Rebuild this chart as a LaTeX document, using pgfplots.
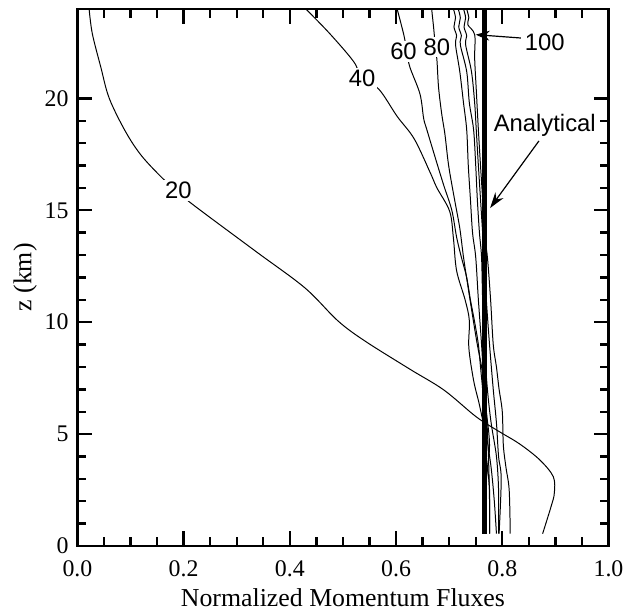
\documentclass[border=0pt]{standalone}
\usepackage{fontspec}
\setmainfont{Liberation Serif}
\newfontfamily\helv{Liberation Sans}
\usepackage{pgfplots}
\pgfplotsset{compat=1.18}
\usetikzlibrary{arrows.meta}

\pgfplotsset{run/.style={black, no markers, line width=0.5pt, smooth, tension=0.55}}

\begin{document}
\begin{tikzpicture}
\begin{axis}[
  scale only axis, width=267.5pt, height=270.5pt,
  xmin=0, xmax=1, ymin=0, ymax=24,
  xtick={0,0.2,0.4,0.6,0.8,1.0},
  xticklabels={0.0,0.2,0.4,0.6,0.8,1.0},
  ytick={0,5,10,15,20},
  minor x tick num=3, minor y tick num=4,
  tick align=inside, major tick length=7.5pt, minor tick length=4.5pt,
  tick style={line width=1.2pt, black},
  axis line style={line width=1.2pt},
  /pgf/number format/assume math mode=true,
  tick label style={font=\fontsize{12}{12}\selectfont},
  xticklabel style={yshift=-4pt},
  yticklabel style={xshift=-1pt},
  xlabel={Normalized Momentum Fluxes}, ylabel={z (km)},
  label style={font=\fontsize{13}{13}\selectfont},
  xlabel style={yshift=1pt},
  ylabel style={yshift=-3pt},
]
% run 20
\addplot[run] coordinates {(0.022,24.0) (0.028,22.9) (0.044,21.4) (0.060,20.0) (0.091,18.5) (0.122,17.4) (0.166,16.3) (0.19,15.85) (0.215,15.3) (0.335,13.18) (0.428,11.54) (0.490,10.07) (0.540,9.18) (0.626,7.90) (0.690,6.97) (0.751,5.77) (0.795,5.1) (0.832,4.57) (0.870,3.86) (0.896,3.1) (0.898,2.36) (0.892,1.77) (0.876,0.55)};
% run 40
\addplot[run] coordinates {(0.430,24.0) (0.475,22.9) (0.520,21.65) (0.536,20.9) (0.568,20.4) (0.602,19.2) (0.634,18.2) (0.664,16.7) (0.677,16.0) (0.701,14.95) (0.708,13.75) (0.714,12.3) (0.730,11.0) (0.738,10.07) (0.737,8.87) (0.746,7.4) (0.757,6.3) (0.766,5.2) (0.770,4.0) (0.776,2.5) (0.776,0.55)};
% run 60
\addplot[run] coordinates {(0.602,24.0) (0.615,22.8) (0.620,22.1) (0.626,21.4) (0.645,20.2) (0.652,19.1) (0.658,18.6) (0.677,17.1) (0.690,16.1) (0.705,15.0) (0.714,13.8) (0.723,12.9) (0.733,12.0) (0.740,11.0) (0.748,10.0) (0.755,9.0) (0.759,8.0) (0.763,7.0) (0.766,6.0) (0.770,5.0) (0.779,3.5) (0.785,2.0) (0.789,0.55)};
% run 80
\addplot[run] coordinates {(0.667,24.0) (0.671,23.1) (0.674,22.3) (0.677,21.7) (0.680,20.5) (0.686,19.3) (0.692,18.4) (0.699,17.0) (0.710,15.5) (0.720,14.2) (0.727,12.9) (0.736,11.5) (0.746,10.0) (0.753,9.0) (0.761,8.0) (0.766,7.0) (0.770,6.0) (0.776,4.5) (0.770,3.0) (0.764,2.0) (0.770,0.55)};
% run 100 and beyond
\addplot[run] coordinates {(0.708,24.0) (0.712,23.6) (0.709,23.2) (0.714,22.8) (0.712,22.4) (0.720,21.2) (0.727,19.8) (0.733,18.6) (0.736,17.0) (0.740,15.5) (0.744,14.0) (0.750,12.9) (0.755,11.0) (0.761,9.0) (0.766,7.0) (0.770,6.0) (0.774,4.0) (0.776,2.0) (0.776,0.55)};
\addplot[run] coordinates {(0.717,24.0) (0.721,23.6) (0.718,23.2) (0.723,22.8) (0.721,22.4) (0.733,21.2) (0.738,19.8) (0.746,18.6) (0.750,17.0) (0.753,15.5) (0.757,14.0) (0.761,12.9) (0.763,11.0) (0.766,9.0) (0.772,7.0) (0.779,5.5) (0.789,4.0) (0.793,2.5) (0.793,0.55)};
\addplot[run] coordinates {(0.727,24.0) (0.731,23.6) (0.728,23.2) (0.733,22.8) (0.731,22.4) (0.742,21.2) (0.748,19.8) (0.751,18.6) (0.755,17.0) (0.759,15.5) (0.763,14.0) (0.766,12.9) (0.770,11.0) (0.776,9.0) (0.783,7.0) (0.789,5.5) (0.793,4.0) (0.798,3.0) (0.794,0.55)};
\addplot[run] coordinates {(0.733,24.0) (0.737,23.6) (0.735,23.3) (0.748,22.85) (0.748,21.8) (0.751,20.4) (0.755,18.6) (0.759,17.0) (0.763,15.5) (0.766,14.0) (0.772,12.9) (0.778,11.0) (0.783,9.0) (0.789,8.0) (0.794,7.0) (0.800,6.0) (0.802,4.5) (0.807,3.5) (0.813,2.5) (0.815,0.55)};
% analytical solution
\addplot[black, no markers, line width=2.3pt] coordinates {(0.766,0.55) (0.766,24.0)};
% curve labels
\begin{scope}[every node/.style={font=\helv\fontsize{12}{12}\selectfont, fill=white, inner sep=1pt}]
\node at (axis cs:0.19,15.9) {20};
\node at (axis cs:0.536,20.9) {40};
\node at (axis cs:0.614,22.1) {60};
\node at (axis cs:0.677,22.3) {80};
\end{scope}
\node[font=\helv\fontsize{12}{12}\selectfont, inner sep=1pt] at (axis cs:0.880,22.5) {100};
\node[font=\helv\fontsize{12}{12}\selectfont, fill=white, inner sep=1pt] at (axis cs:0.880,18.8) {Analytical};
\draw[-{Stealth[length=7pt,width=5pt]}, line width=0.6pt] (axis cs:0.835,22.7) -- (axis cs:0.750,22.85);
\draw[-{Stealth[length=8pt,width=5pt]}, line width=0.6pt] (axis cs:0.869,18.1) -- (axis cs:0.777,15.1);
\end{axis}
\path (current axis.south west) ++(-39pt,-34.5pt) (current axis.north east) ++(8.5pt,4.5pt);
\end{tikzpicture}
\end{document}
